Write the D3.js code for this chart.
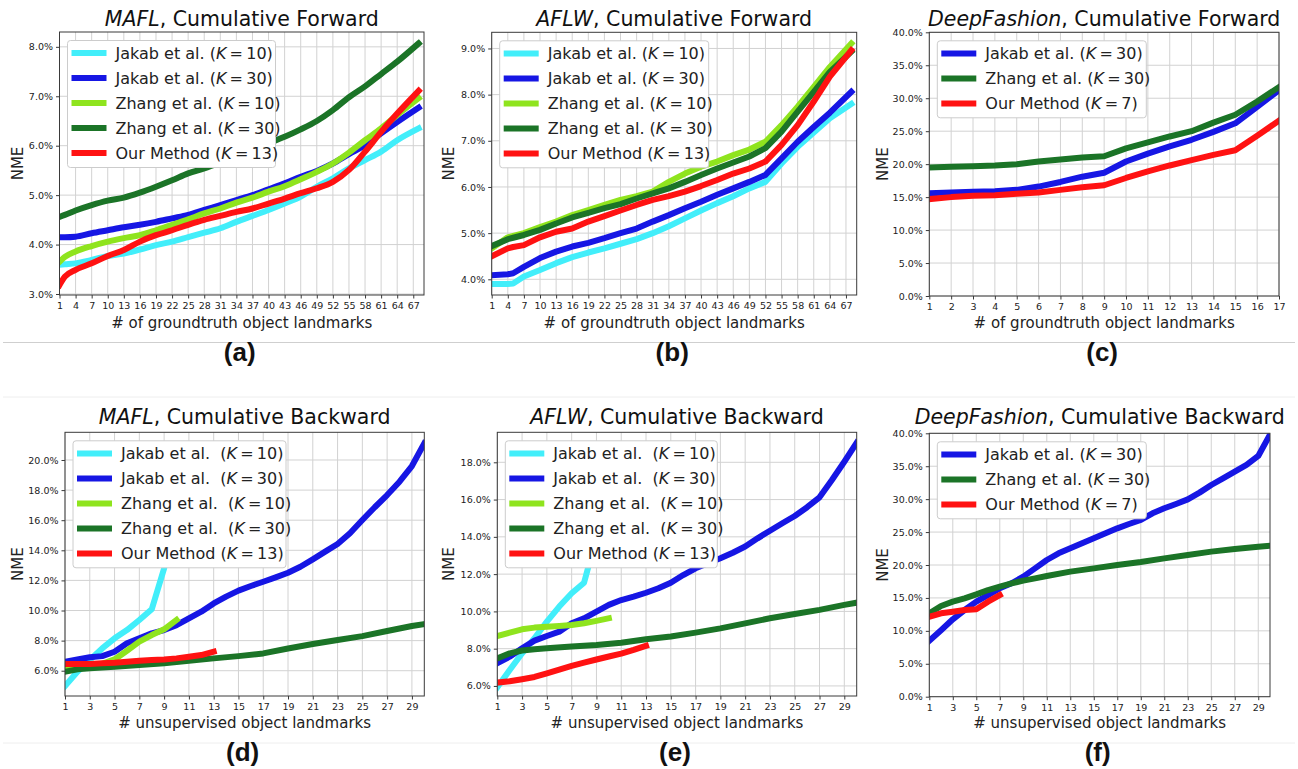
<!DOCTYPE html>
<html><head><meta charset="utf-8">
<script src="https://cdn.jsdelivr.net/npm/d3@7"></script>
<style>body{margin:0;background:#fff;} svg{display:block;}</style>
</head><body>
<svg id="c" width="1298" height="769"></svg>
<script>
// ---------- DATA ----------
// (a) MAFL, Cumulative Forward
const aX        = [1,2,4,7,10,13,16,19,22,25,28,31,34,37,40,43,46,49,52,55,58,61,64,68];
const aJakab10  = [3.59,3.60,3.62,3.69,3.77,3.82,3.90,3.99,4.06,4.15,4.24,4.33,4.46,4.58,4.70,4.83,4.97,5.17,5.34,5.54,5.71,5.88,6.11,6.35];
const aJakab30  = [4.15,4.15,4.16,4.23,4.29,4.35,4.40,4.46,4.53,4.60,4.70,4.80,4.90,5.00,5.12,5.24,5.37,5.49,5.64,5.83,6.01,6.25,6.48,6.77];
const aZhang10  = [3.65,3.75,3.86,3.97,4.06,4.13,4.19,4.29,4.40,4.51,4.63,4.73,4.85,4.95,5.07,5.18,5.32,5.47,5.64,5.86,6.11,6.35,6.62,6.96];
const aZhang30  = [4.56,4.60,4.69,4.80,4.89,4.95,5.05,5.17,5.30,5.44,5.54,5.66,5.79,5.92,6.05,6.18,6.33,6.50,6.72,6.98,7.20,7.45,7.70,8.07];
const aOurs     = [3.18,3.35,3.49,3.62,3.77,3.89,4.06,4.19,4.29,4.40,4.50,4.58,4.66,4.73,4.83,4.93,5.04,5.14,5.27,5.51,5.88,6.28,6.65,7.11];

// (b) AFLW, Cumulative Forward
const bX        = [1,4,5,7,10,13,16,19,22,25,28,31,34,37,40,43,46,49,52,55,58,61,64,68];
const bJakab10  = [3.90,3.90,3.91,4.06,4.20,4.35,4.48,4.58,4.67,4.77,4.87,5.00,5.15,5.32,5.49,5.65,5.80,5.97,6.11,6.51,6.87,7.18,7.49,7.80];
const bJakab30  = [4.09,4.11,4.13,4.27,4.46,4.60,4.71,4.79,4.89,5.00,5.10,5.25,5.39,5.54,5.68,5.83,5.97,6.11,6.26,6.62,6.98,7.30,7.61,8.06];
const bZhang10  = [4.67,4.91,4.94,5.00,5.13,5.25,5.39,5.50,5.61,5.72,5.80,5.90,6.11,6.29,6.44,6.55,6.69,6.81,6.98,7.34,7.74,8.17,8.60,9.11];
const bZhang30  = [4.72,4.87,4.90,4.96,5.07,5.21,5.34,5.44,5.54,5.63,5.75,5.86,5.97,6.11,6.26,6.40,6.53,6.66,6.84,7.20,7.63,8.06,8.49,8.93];
const bOurs     = [4.50,4.67,4.70,4.74,4.91,5.03,5.10,5.25,5.37,5.49,5.61,5.72,5.80,5.90,6.02,6.15,6.29,6.40,6.55,6.91,7.34,7.85,8.39,8.96];

// (c) DeepFashion, Cumulative Forward
const cX        = [1,2,3,4,5,6,7,8,9,10,11,12,13,14,15,16,17];
const cJakab30  = [15.6,15.7,15.8,15.9,16.1,16.6,17.3,18.1,18.7,20.4,21.6,22.7,23.7,24.9,26.2,28.7,31.2];
const cZhang30  = [19.5,19.6,19.7,19.8,20.0,20.4,20.7,21.0,21.2,22.4,23.3,24.2,25.0,26.3,27.5,29.5,31.7];
const cOurs     = [14.7,15.0,15.2,15.3,15.5,15.7,16.1,16.5,16.8,17.9,18.9,19.8,20.6,21.4,22.1,24.3,26.6];

// (d) MAFL, Cumulative Backward
const dX10      = [1,2,3,4,5,6,7,8,9,10];
const dX13      = [1,2,3,4,5,6,7,8,9,10,11,12,13];
const dX30      = [1,2,3,4,5,6,7,8,9,10,11,12,13,14,15,16,17,18,19,20,21,22,23,24,25,26,27,28,29,30];
const dXZhang30 = [1,2,3,5,7,9,11,13,15,17,19,21,23,25,27,29,30];
const dJakab10  = [4.98,5.93,6.71,7.48,8.15,8.70,9.37,10.08,12.8,16.0];
const dJakab30  = [6.60,6.75,6.89,6.97,7.26,7.82,8.15,8.48,8.70,9.03,9.48,9.92,10.47,10.92,11.32,11.63,11.91,12.20,12.51,12.91,13.40,13.91,14.42,15.13,16.01,16.86,17.67,18.56,19.60,21.11];
const dZhang10  = [6.30,6.35,6.40,6.45,6.75,7.33,7.93,8.37,8.75,9.37];
const dZhang30  = [5.93,6.09,6.16,6.27,6.38,6.49,6.66,6.82,6.97,7.15,7.48,7.77,8.04,8.30,8.64,8.97,9.10];
const dOurs     = [6.44,6.44,6.44,6.49,6.53,6.60,6.66,6.71,6.75,6.82,6.93,7.04,7.26];

// (e) AFLW, Cumulative Backward
const eX10      = [1,2,3,4,5,6,7,8,9,10];
const eX13      = [1,2,3,4,5,6,7,8,9,10,11,12,13];
const eX30      = [1,2,3,4,5,6,7,8,9,10,11,12,13,14,15,16,17,18,19,20,21,22,23,24,25,26,27,28,29,30];
const eXZhang30 = [1,2,3,4,5,7,9,11,13,15,17,19,21,23,25,27,29,30];
const eJakab10  = [5.93,6.86,7.75,8.56,9.45,10.26,10.97,11.54,14.0,16.5];
const eJakab30  = [7.22,7.57,8.02,8.43,8.68,8.91,9.36,9.63,9.99,10.35,10.61,10.79,11.00,11.24,11.54,11.95,12.31,12.58,12.85,13.15,13.48,13.92,14.33,14.73,15.12,15.59,16.12,17.05,18.03,19.05];
const eZhang10  = [8.68,8.86,9.04,9.13,9.18,9.22,9.27,9.36,9.49,9.63];
const eZhang30  = [7.48,7.75,7.90,7.97,8.02,8.11,8.20,8.32,8.50,8.65,8.86,9.09,9.36,9.63,9.86,10.08,10.35,10.47];
const eOurs     = [6.18,6.25,6.36,6.48,6.68,6.88,7.08,7.25,7.42,7.58,7.73,7.93,8.15];

// (f) DeepFashion, Cumulative Backward
const fX7       = [1,2,3,4,5,6,7];
const fX30      = [1,2,3,4,5,6,7,8,9,10,11,12,13,14,15,16,17,18,19,20,21,22,23,24,25,26,27,28,29,30];
const fXZhang30 = [1,2,3,4,5,6,7,8,9,10,11,13,15,17,19,21,23,25,27,29,30];
const fJakab30  = [8.5,10.1,11.75,13.16,14.43,15.44,16.46,17.22,18.23,19.49,20.76,21.77,22.53,23.29,24.05,24.81,25.57,26.23,26.84,27.85,28.61,29.27,29.97,30.99,32.15,33.16,34.18,35.19,36.56,39.8];
const fZhang30  = [12.66,13.77,14.43,14.94,15.54,16.2,16.71,17.22,17.62,17.97,18.33,18.99,19.49,20.0,20.46,21.01,21.52,22.03,22.43,22.78,22.94];
const fOurs     = [12.15,12.66,12.91,13.16,13.27,14.43,15.44];

// tick labels
const fwdFaceTicksX = [1,4,7,10,13,16,19,22,25,28,31,34,37,40,43,46,49,52,55,58,61,64,67];
const fashionFwdTicksX = [1,2,3,4,5,6,7,8,9,10,11,12,13,14,15,16,17];
const bwdTicksX = [1,3,5,7,9,11,13,15,17,19,21,23,25,27,29];
const aTicksY = [3,4,5,6,7,8];
const bTicksY = [4,5,6,7,8,9];
const fashionTicksY = [0,5,10,15,20,25,30,35,40];
const dTicksY = [6,8,10,12,14,16,18,20];
const eTicksY = [6,8,10,12,14,16,18];

// text
const datasets = ["MAFL","AFLW","DeepFashion","MAFL","AFLW","DeepFashion"];
const titleSuffix = [", Cumulative Forward",", Cumulative Forward",", Cumulative Forward",", Cumulative Backward",", Cumulative Backward",", Cumulative Backward"];
const panelLetters = ["(a)","(b)","(c)","(d)","(e)","(f)"];
const xLabelFwd = "# of groundtruth object landmarks";
const xLabelBwd = "# unsupervised object landmarks";
const yLabel = "NME";

// ---------- STYLE ----------
const C = {j10:'#42eefa', j30:'#1616e4', z10:'#8fe41e', z30:'#1b7427', ours:'#ff1212'};
const FONT = "'DejaVu Sans', Verdana, sans-serif";
const LW = 6;
const LEGFS = 16;

const svg = d3.select('#c');

// separators
[[342.5,'#cfcfcf'],[397,'#eeeeee'],[743,'#eeeeee']].forEach(([yy,col])=>{
  svg.append('line').attr('x1',3).attr('x2',1295).attr('y1',yy).attr('y2',yy).attr('stroke',col).attr('stroke-width',1);
});

function ser(label,k,color,xs,ys,sp){return {label,k,color,xs,ys,sp:sp||''};}
const sp2 = '\u00a0';

const panels = [
 {id:'a', left:59.5,right:424,top:32,bottom:295, xDomain:[1,69], yDomain:[2.98,8.30], xTicks:fwdFaceTicksX, yTicks:aTicksY, curve:d3.curveMonotoneX,
  xLabel:xLabelFwd, nmeX:17, legendW:208,
  series:[ser('Jakab et al. ',10,C.j10,aX,aJakab10), ser('Jakab et al. ',30,C.j30,aX,aJakab30), ser('Zhang et al. ',10,C.z10,aX,aZhang10), ser('Zhang et al. ',30,C.z30,aX,aZhang30), ser('Our Method ',13,C.ours,aX,aOurs)]},
 {id:'b', left:491.7,right:856.7,top:32.3,bottom:295, xDomain:[1,69], yDomain:[3.66,9.35], xTicks:fwdFaceTicksX, yTicks:bTicksY,
  xLabel:xLabelFwd, nmeX:448, legendW:209,
  series:[ser('Jakab et al. ',10,C.j10,bX,bJakab10), ser('Jakab et al. ',30,C.j30,bX,bJakab30), ser('Zhang et al. ',10,C.z10,bX,bZhang10), ser('Zhang et al. ',30,C.z30,bX,bZhang30), ser('Our Method ',13,C.ours,bX,bOurs)]},
 {id:'c', left:929.3,right:1279,top:32.3,bottom:296, xDomain:[1,17], yDomain:[0,40], xTicks:fashionFwdTicksX, yTicks:fashionTicksY,
  xLabel:xLabelFwd, nmeX:882, legendW:209,
  series:[ser('Jakab et al. ',30,C.j30,cX,cJakab30), ser('Zhang et al. ',30,C.z30,cX,cZhang30), ser('Our Method ',7,C.ours,cX,cOurs)]},
 {id:'d', left:65,right:424.3,top:432.3,bottom:696, xDomain:[1,30], yDomain:[4.32,21.84], xTicks:bwdTicksX, yTicks:dTicksY,
  xLabel:xLabelBwd, nmeX:17, legendW:213,
  series:[ser('Jakab et al. ',10,C.j10,dX10,dJakab10,sp2), ser('Jakab et al. ',30,C.j30,dX30,dJakab30,sp2), ser('Zhang et al. ',10,C.z10,dX10,dZhang10,sp2), ser('Zhang et al. ',30,C.z30,dXZhang30,dZhang30,sp2), ser('Our Method ',13,C.ours,dX13,dOurs)]},
 {id:'e', left:497.3,right:856.7,top:432.3,bottom:696, xDomain:[1,30], yDomain:[5.46,19.61], xTicks:bwdTicksX, yTicks:eTicksY,
  xLabel:xLabelBwd, nmeX:448, legendW:212,
  series:[ser('Jakab et al. ',10,C.j10,eX10,eJakab10,sp2), ser('Jakab et al. ',30,C.j30,eX30,eJakab30,sp2), ser('Zhang et al. ',10,C.z10,eX10,eZhang10,sp2), ser('Zhang et al. ',30,C.z30,eXZhang30,eZhang30,sp2), ser('Our Method ',13,C.ours,eX13,eOurs)]},
 {id:'f', left:929.3,right:1270,top:433.3,bottom:696.7, xDomain:[1,30], yDomain:[0,40], xTicks:bwdTicksX, yTicks:fashionTicksY,
  xLabel:xLabelBwd, nmeX:882, legendW:209,
  series:[ser('Jakab et al. ',30,C.j30,fX30,fJakab30), ser('Zhang et al. ',30,C.z30,fXZhang30,fZhang30), ser('Our Method ',7,C.ours,fX7,fOurs)]}
];

panels.forEach((p,i)=>{
  const g = svg.append('g');
  const x = d3.scaleLinear().domain(p.xDomain).range([p.left,p.right]);
  const y = d3.scaleLinear().domain(p.yDomain).range([p.bottom,p.top]);
  const cx = (p.left+p.right)/2, cy=(p.top+p.bottom)/2;
  const row = i<3 ? 0 : 1;

  // grid
  g.append('g').selectAll('line').data(p.xTicks).join('line')
    .attr('x1',d=>x(d)).attr('x2',d=>x(d)).attr('y1',p.top).attr('y2',p.bottom)
    .attr('stroke','#d2d2d2').attr('stroke-width',1);
  g.append('g').selectAll('line').data(p.yTicks).join('line')
    .attr('y1',d=>y(d)).attr('y2',d=>y(d)).attr('x1',p.left).attr('x2',p.right)
    .attr('stroke','#d2d2d2').attr('stroke-width',1);

  // clip & lines
  svg.append('clipPath').attr('id','clip'+p.id).append('rect')
    .attr('x',p.left).attr('y',p.top).attr('width',p.right-p.left).attr('height',p.bottom-p.top);
  const lg = g.append('g').attr('clip-path',`url(#clip${p.id})`);
  const line = d3.line().x(d=>x(d[0])).y(d=>y(d[1])).curve(p.curve||d3.curveLinear);
  p.series.forEach(s=>{
    lg.append('path').attr('d',line(d3.zip(s.xs,s.ys))).attr('fill','none')
      .attr('stroke',s.color).attr('stroke-width',LW).attr('stroke-linejoin','round').attr('stroke-linecap','square');
  });

  // frame
  g.append('rect').attr('x',p.left).attr('y',p.top).attr('width',p.right-p.left).attr('height',p.bottom-p.top)
    .attr('fill','none').attr('stroke','#3a3a3a').attr('stroke-width',1);

  // axes
  const xa = g.append('g').attr('transform',`translate(0,${p.bottom})`)
    .call(d3.axisBottom(x).tickValues(p.xTicks).tickSize(3.5).tickPadding(4).tickFormat(d3.format('d')));
  const ya = g.append('g').attr('transform',`translate(${p.left},0)`)
    .call(d3.axisLeft(y).tickValues(p.yTicks).tickSize(3.5).tickPadding(3).tickFormat(d=>d.toFixed(1)+'%'));
  [xa,ya].forEach(a=>{
    a.select('.domain').remove();
    a.attr('font-family',FONT).attr('font-size',9.5);
    a.selectAll('line').attr('stroke','#3a3a3a');
    a.selectAll('text').attr('fill','#222');
  });

  // title
  const t = svg.append('text').attr('x',cx).attr('y',row?424:25.5).attr('text-anchor','middle')
    .attr('font-family',FONT).attr('font-size',20.5).attr('fill','#111');
  t.append('tspan').attr('font-style','italic').text(datasets[i]);
  t.append('tspan').text(titleSuffix[i]);

  // x label
  svg.append('text').attr('x',cx).attr('y',row?728:328).attr('text-anchor','middle')
    .attr('font-family',FONT).attr('font-size',15).attr('fill','#222').text(p.xLabel);
  // y label
  svg.append('text').attr('transform',`translate(${p.nmeX+5.5},${cy}) rotate(-90)`).attr('text-anchor','middle')
    .attr('font-family',FONT).attr('font-size',15).attr('fill','#222').text(yLabel);

  // panel letter
  svg.append('text').attr('x',cx-2).attr('y',row?761:361).attr('text-anchor','middle')
    .attr('font-family',"'Liberation Sans', Arial, sans-serif").attr('font-weight','bold').attr('font-size',26).attr('fill','#111')
    .text(panelLetters[i]);

  // legend
  const bx = p.left+8, by = p.top+8.5, n = p.series.length;
  const leg = g.append('g');
  leg.append('rect').attr('x',bx).attr('y',by).attr('width',p.legendW).attr('height',n*25+2)
    .attr('rx',3).attr('fill','#fff').attr('stroke','#cccccc').attr('stroke-width',1);
  p.series.forEach((s,j)=>{
    const ry = by+12.6+25*j;
    leg.append('line').attr('x1',bx+4).attr('x2',bx+39).attr('y1',ry).attr('y2',ry)
      .attr('stroke',s.color).attr('stroke-width',LW);
    const tx = leg.append('text').attr('x',bx+48).attr('y',ry).attr('dy','0.36em')
      .attr('font-family',FONT).attr('font-size',LEGFS).attr('fill','#222');
    tx.append('tspan').text(s.label+s.sp+'(');
    tx.append('tspan').attr('font-style','italic').text('K');
    tx.append('tspan').text('\u2009=\u2009'+s.k+')');
  });
});
</script>
</body></html>
